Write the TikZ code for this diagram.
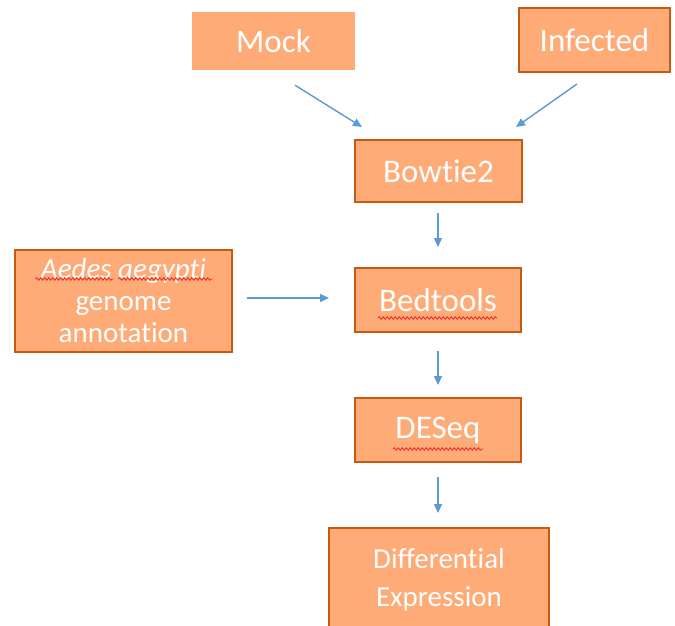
\documentclass[tikz,border=0pt]{standalone}
\usepackage{fontspec}
\setmainfont{Carlito}[Ligatures=NoCommon]
\usetikzlibrary{calc,decorations.pathmorphing,arrows.meta}
\definecolor{boxfill}{HTML}{FFAB78}
\definecolor{boxline}{HTML}{C55A11}
\definecolor{arrowblue}{HTML}{5B9BD5}
\definecolor{squig}{HTML}{E8312A}
\begin{document}
\begin{tikzpicture}[x=1pt,y=-1pt,
  box/.style={fill=boxfill, draw=boxline, line width=2pt, text=white, align=center, inner sep=0pt},
  plainbox/.style={fill=boxfill, draw=none, text=white, align=center, inner sep=0pt},
  bigtext/.style={font=\fontsize{33}{35}\selectfont},
  smalltext/.style={font=\fontsize{29}{32}\selectfont},
  widetext/.style={font=\fontsize{29}{38}\selectfont},
  arr/.style={draw=arrowblue, line width=1.4pt, -{Triangle[length=9pt,width=8pt]}},
  squiggle/.style={draw=squig, line width=0.9pt, decorate, decoration={snake, segment length=4pt, amplitude=1.2pt}}]
\useasboundingbox (0,0) rectangle (675,626);
\fill[white] (0,0) rectangle (675,626);

\node[plainbox, bigtext, minimum width=163pt, minimum height=58pt] (mock) at (273.5,41) {Mock};
\node[box, bigtext, minimum width=151pt, minimum height=64pt] (infected) at (594.5,40) {Infected};
\node[box, bigtext, minimum width=167pt, minimum height=62pt] (bowtie) at (438.5,171) {Bowtie2};
\node[box, smalltext, minimum width=217pt, minimum height=102pt] (aedes) at (123.5,301) {\textit{Aedes aegypti}\\genome\\annotation};
\node[box, bigtext, minimum width=166pt, minimum height=64pt] (bedtools) at (438,300) {Bedtools};
\node[box, bigtext, minimum width=166pt, minimum height=64pt] (deseq) at (438,430) {DESeq};
\node[box, widetext, minimum width=220pt, minimum height=104pt] (diff) at (439,580) {Differential\\Expression};

% arrow end points
\coordinate (m1) at ($(mock.south)+(21.5,15)$);
\coordinate (m2) at ($(bowtie.north)+(-76.5,-12)$);
\coordinate (i1) at ($(infected.south)+(-17.5,11)$);
\coordinate (i2) at ($(bowtie.north)+(77.5,-12)$);
\coordinate (b1) at ($(bowtie.south)+(-0.5,10)$);
\coordinate (b2) at ($(bedtools.north)+(0,-20)$);
\coordinate (a1) at ($(aedes.east)+(14,-3)$);
\coordinate (a2) at ($(bedtools.west)+(-25,-2)$);
\coordinate (d1) at ($(bedtools.south)+(0,18)$);
\coordinate (d2) at ($(deseq.north)+(0,-12)$);
\coordinate (e1) at ($(deseq.south)+(0,14)$);
\coordinate (e2) at ($(diff.north)+(-1,-14)$);

\draw[arr] (m1) -- (m2);
\draw[arr] (i1) -- (i2);
\draw[arr] (b1) -- (b2);
\draw[arr] (a1) -- (a2);
\draw[arr] (d1) -- (d2);
\draw[arr] (e1) -- (e2);

% spell-check underlines
\draw[squiggle] ($(aedes.center)+(-88,-22)$) -- ++(78,0);
\draw[squiggle] ($(aedes.center)+(-5,-22)$) -- ++(94,0);
\draw[squiggle] ($(bedtools.center)+(-60,18)$) -- ++(119,0);
\draw[squiggle] ($(deseq.center)+(-45,19)$) -- ++(90,0);
\end{tikzpicture}
\end{document}
